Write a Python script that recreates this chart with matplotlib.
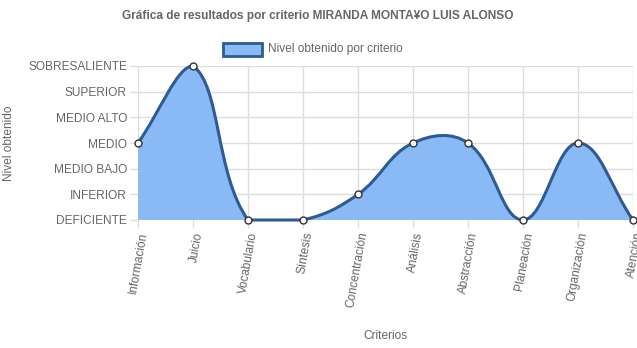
import numpy as np
import matplotlib
matplotlib.use("Agg")
import matplotlib.pyplot as plt
from matplotlib.path import Path
from matplotlib.patches import PathPatch, Rectangle

criterios = ["Información", "Juicio", "Vocabulario", "Síntesis", "Concentración",
             "Análisis", "Abstracción", "Planeación", "Organización", "Atención"]
niveles = [3, 6, 0, 0, 1, 3, 3, 0, 3, 0]
etiquetas_y = ["DEFICIENTE", "INFERIOR", "MEDIO BAJO", "MEDIO", "MEDIO ALTO",
               "SUPERIOR", "SOBRESALIENTE"]

plt.rcParams["font.family"] = ["Liberation Sans", "DejaVu Sans"]
GRIS = "#666666"
RELLENO = "#8abaf5"
LINEA = "#2e5b93"

W, H = 637, 348
fig = plt.figure(figsize=(W / 100, H / 100), dpi=100)
x0, x1, ytop, ybot = 138, 633, 66, 220
ax = fig.add_axes([x0 / W, 1 - ybot / H, (x1 - x0) / W, (ybot - ytop) / H])

n = len(criterios)
xs = np.arange(n, dtype=float)
ys = np.array(niveles, dtype=float)
ymax = len(etiquetas_y) - 1
ax.set_xlim(0, n - 1)
ax.set_ylim(0, ymax)

# control points like Chart.js (tension 0.4), distances in pixels
sx = (x1 - x0) / (n - 1)
sy = (ybot - ytop) / ymax
px, py = xs * sx, ys * sy
t = 0.4
cprev, cnext = [], []
for i in range(n):
    a = max(i - 1, 0); c = min(i + 1, n - 1)
    d01 = np.hypot(px[i] - px[a], py[i] - py[a])
    d12 = np.hypot(px[c] - px[i], py[c] - py[i])
    tot = d01 + d12
    s01 = d01 / tot if tot else 0
    s12 = d12 / tot if tot else 0
    fa, fb = t * s01, t * s12
    p = (px[i] - fa * (px[c] - px[a]), py[i] - fa * (py[c] - py[a]))
    q = (px[i] + fb * (px[c] - px[a]), py[i] + fb * (py[c] - py[a]))
    cap = lambda v: (min(max(v[0], 0), px[-1]) / sx, min(max(v[1], 0), ymax * sy) / sy)
    cprev.append(cap(p)); cnext.append(cap(q))

verts = [(xs[0], ys[0])]
codes = [Path.MOVETO]
for i in range(n - 1):
    verts += [cnext[i], cprev[i + 1], (xs[i + 1], ys[i + 1])]
    codes += [Path.CURVE4] * 3
curva = Path(verts, codes)
relleno = Path(verts + [(xs[-1], 0), (xs[0], 0), (xs[0], ys[0])],
               codes + [Path.LINETO, Path.LINETO, Path.CLOSEPOLY])
ax.add_patch(PathPatch(relleno, facecolor=RELLENO, edgecolor="none", zorder=1))
ax.add_patch(PathPatch(curva, facecolor="none", edgecolor=LINEA, lw=2.2, zorder=3,
                       clip_on=False))
ax.plot(xs, ys, "o", ms=5, mfc="white", mec="#333333", mew=1, zorder=4, clip_on=False)

ax.set_xticks(xs)
ax.set_xticklabels(criterios, rotation=80, ha="right", va="top", rotation_mode="anchor",
                   fontsize=8.6, color=GRIS)
ax.set_yticks(range(len(etiquetas_y)))
ax.set_yticklabels(etiquetas_y, fontsize=8.6, color=GRIS)
ax.tick_params(axis="both", length=6, color="#dddddd", width=1, pad=2)
ax.grid(True, color="#dddddd", lw=1, zorder=0)
ax.set_axisbelow(True)
for s in ax.spines.values():
    s.set_visible(False)

ax.set_ylabel("Nivel obtenido", fontsize=8.6, color=GRIS, labelpad=6)
ax.yaxis.set_label_coords(12 / W - x0 / W, 0.5, transform=None)
ax.yaxis.label.set_transform(fig.transFigure)
ax.yaxis.label.set_position((15 / W, 1 - 143 / H))
fig.text(0.5 * (x0 + x1) / W, 1 - 336 / H, "Criterios", ha="center", va="center",
         fontsize=8.6, color=GRIS)

fig.text(318 / W, 1 - 16 / H,
         "Gráfica de resultados por criterio MIRANDA MONTA¥O LUIS ALONSO",
         ha="center", va="center", fontsize=8.6, fontweight="bold", color=GRIS)
fig.patches.append(Rectangle((223 / W, 1 - 56 / H), 39 / W, 13 / H, transform=fig.transFigure,
                             facecolor=RELLENO, edgecolor=LINEA, lw=2, figure=fig))
fig.text(268 / W, 1 - 49 / H, "Nivel obtenido por criterio", ha="left", va="center",
         fontsize=8.6, color=GRIS)

fig.savefig("out.png", dpi=100)
